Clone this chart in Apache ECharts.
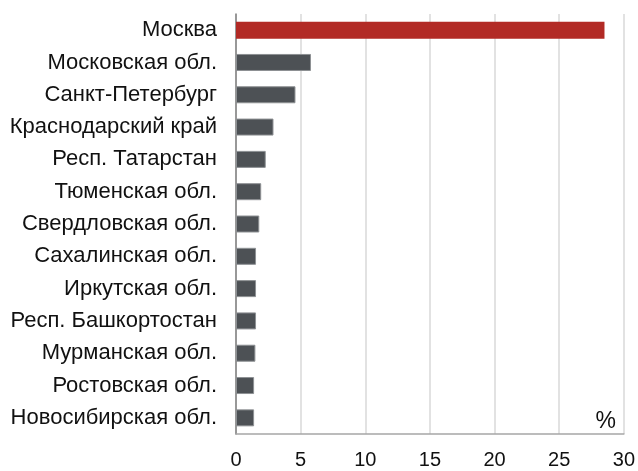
<!DOCTYPE html>
<html><head><meta charset="utf-8">
<script src="https://cdn.jsdelivr.net/npm/echarts@6/dist/echarts.min.js"></script>
<style>html,body{margin:0;padding:0;background:#fff}#c{width:638px;height:471px}</style>
</head><body><div id="c"></div>
<script>
const categories = ["Москва","Московская обл.","Санкт-Петербург","Краснодарский край","Респ. Татарстан","Тюменская обл.","Свердловская обл.","Сахалинская обл.","Иркутская обл.","Респ. Башкортостан","Мурманская обл.","Ростовская обл.","Новосибирская обл."];
const values = [28.5, 5.8, 4.6, 2.9, 2.3, 1.95, 1.8, 1.55, 1.55, 1.55, 1.5, 1.4, 1.4];
const xTicks = [0, 5, 10, 15, 20, 25, 30];
const unitLabel = "%";

const chart = echarts.init(document.getElementById('c'));
const font = "'Liberation Sans', Arial, sans-serif";
chart.setOption({
  animation: false,
  grid: {left: 236, right: 14, top: 14, bottom: 37, containLabel: false},
  xAxis: {
    type: 'value', min: xTicks[0], max: xTicks[xTicks.length-1], interval: 5,
    axisLine: {show: true, lineStyle: {color: '#a6a6a6', width: 1.5}},
    axisTick: {show: false},
    splitLine: {show: true, lineStyle: {color: '#d9d9d9', width: 1.5}},
    axisLabel: {color: '#111', fontFamily: font, fontSize: 20, margin: 16}
  },
  yAxis: {
    type: 'category', data: categories, inverse: true,
    axisLine: {show: true, lineStyle: {color: '#7f7f7f', width: 1.5}},
    axisTick: {show: false},
    axisLabel: {color: '#111', fontFamily: font, fontSize: 22, margin: 19}
  },
  graphic: [{type: 'text', right: 22, top: 410, style: {text: unitLabel, fontFamily: font, fontSize: 23, fill: '#111'}}],
  series: [{
    type: 'bar', barWidth: 17,
    data: values.map((v, i) => ({value: v, itemStyle: i === 0 ? {color: '#b22a25'} : {color: '#4d5155', borderColor: '#8e9194', borderWidth: 1}}))
  }]
});
</script></body></html>
